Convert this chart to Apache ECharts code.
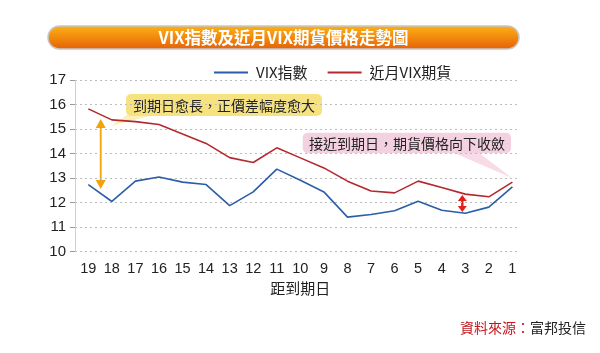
<!DOCTYPE html>
<html><head><meta charset="utf-8">
<script src="https://cdn.jsdelivr.net/npm/echarts@6/dist/echarts.min.js"></script>
<style>html,body{margin:0;padding:0;background:#fff}#c{width:600px;height:353px}</style>
</head><body><div id="c"></div>
<script>
const categories = ['19','18','17','16','15','14','13','12','11','10','9','8','7','6','5','4','3','2','1'];
const vixIndex = [12.74,12.05,12.88,13.05,12.84,12.74,11.88,12.44,13.37,12.92,12.44,11.41,11.52,11.67,12.06,11.69,11.57,11.82,12.65];
const vixFutures = [15.83,15.38,15.31,15.19,14.80,14.42,13.84,13.64,14.24,13.83,13.42,12.88,12.48,12.40,12.88,12.62,12.35,12.24,12.84];
const yTicks = {min:10, max:17, interval:1};
const seriesNames = ['VIX指數','近月VIX期貨'];
const titleText = 'VIX指數及近月VIX期貨價格走勢圖';
const note1 = '到期日愈長，正價差幅度愈大';
const note2 = '接近到期日，期貨價格向下收斂';

const FONT = '"Liberation Sans","Noto Sans CJK TC",sans-serif';
const CJK = '"Noto Sans CJK TC","Liberation Sans",sans-serif';
const chart = echarts.init(document.getElementById('c'));
const gTop = 80.2, gBottom = 353-251.7;
function dblArrow(x, y1, y2, hw, hh, color, lw){
  return {type:'group', silent:true, children:[
    {type:'line', shape:{x1:x,y1:y1+hh-1,x2:x,y2:y2-hh+1}, style:{stroke:color,lineWidth:lw}},
    {type:'polygon', shape:{points:[[x,y1],[x-hw,y1+hh],[x+hw,y1+hh]]}, style:{fill:color}},
    {type:'polygon', shape:{points:[[x,y2],[x-hw,y2-hh],[x+hw,y2-hh]]}, style:{fill:color}}
  ]};
}
chart.setOption({
  animation:false,
  textStyle:{fontFamily:FONT},
  legend:{
    left:209, top:60, itemWidth:34, itemHeight:2, itemGap:20,
    textStyle:{fontSize:15, color:'#222', fontFamily:CJK, padding:[0,0,0,3]},
    data:[{name:seriesNames[0], icon:'rect'},{name:seriesNames[1], icon:'rect'}]
  },
  grid:[
    {left:75, right:600-517, top:gTop, bottom:gBottom},
    {left:88.3, right:600-512.4, top:gTop, bottom:gBottom}
  ],
  xAxis:[
    {gridIndex:0, type:'value', min:0, max:1, show:false},
    {gridIndex:1, type:'category', data:categories, boundaryGap:false,
     axisLine:{show:false}, axisTick:{show:false}, splitLine:{show:false},
     axisLabel:{fontSize:14.5, color:'#222', margin:10, fontFamily:FONT},
     name:'距到期日', nameLocation:'middle', nameGap:29,
     nameTextStyle:{fontSize:15, color:'#222', fontFamily:CJK}}
  ],
  yAxis:[
    {gridIndex:0, type:'value', min:yTicks.min, max:yTicks.max, interval:yTicks.interval,
     axisLine:{show:true, lineStyle:{color:'#cfcfcf', width:1}},
     axisTick:{show:true, length:5, lineStyle:{color:'#999'}},
     axisLabel:{fontSize:15, color:'#222', margin:9, fontFamily:FONT},
     splitLine:{show:true, lineStyle:{color:'#bdbdbd', type:[2,3], width:1}}},
    {gridIndex:1, type:'value', min:yTicks.min, max:yTicks.max, interval:yTicks.interval, show:false, splitLine:{show:false}}
  ],
  series:[
    {name:seriesNames[0], type:'line', xAxisIndex:1, yAxisIndex:1, data:vixIndex, showSymbol:false, symbol:'none',
     lineStyle:{color:'#2b5ea7', width:1.6}, itemStyle:{color:'#2b5ea7'}},
    {name:seriesNames[1], type:'line', xAxisIndex:1, yAxisIndex:1, data:vixFutures, showSymbol:false, symbol:'none',
     lineStyle:{color:'#b5292e', width:1.6}, itemStyle:{color:'#b5292e'}}
  ],
  graphic:[
    {type:'rect', shape:{x:48,y:26,width:471,height:23,r:11.5},
     style:{fill:new echarts.graphic.LinearGradient(0,0,0,1,[{offset:0,color:'#fbb21a'},{offset:0.5,color:'#f28a0c'},{offset:1,color:'#e4600a'}]), stroke:'#c8c8c8', lineWidth:1.5}},
    {type:'text', x:283.5, y:38, style:{text:titleText, fill:'#fff', fontSize:16.5, fontWeight:'bold', fontFamily:CJK, align:'center', verticalAlign:'middle'}},
    {type:'polygon', shape:{points:[[127,115],[153,115],[111,126]]}, style:{fill:'#fbf0b8'}},
    {type:'rect', shape:{x:126,y:94,width:196,height:22,r:5}, style:{fill:'#f6e27e'}},
    {type:'text', x:224, y:105.5, style:{text:note1, fill:'#222', fontSize:14, fontFamily:CJK, align:'center', verticalAlign:'middle'}},
    {type:'polygon', shape:{points:[[452,152],[478,152],[512,178]]}, style:{fill:'#f7dbe7'}},
    {type:'rect', shape:{x:302.7,y:132.7,width:208.3,height:20.6,r:5}, style:{fill:'#f4d1e1'}},
    {type:'text', x:407, y:143.2, style:{text:note2, fill:'#222', fontSize:14, fontFamily:CJK, align:'center', verticalAlign:'middle'}},
    dblArrow(100.7, 119, 189, 5, 9, '#f0a30a', 1.8),
    dblArrow(462.3, 195, 212, 4.5, 6, '#e0201b', 2.4),
    {type:'text', right:14, top:321, style:{text:'{r|資料來源：}{k|富邦投信}', rich:{r:{fill:'#c4161c',fontSize:14,fontFamily:CJK},k:{fill:'#222',fontSize:14,fontFamily:CJK}}}}
  ]
});
</script></body></html>
